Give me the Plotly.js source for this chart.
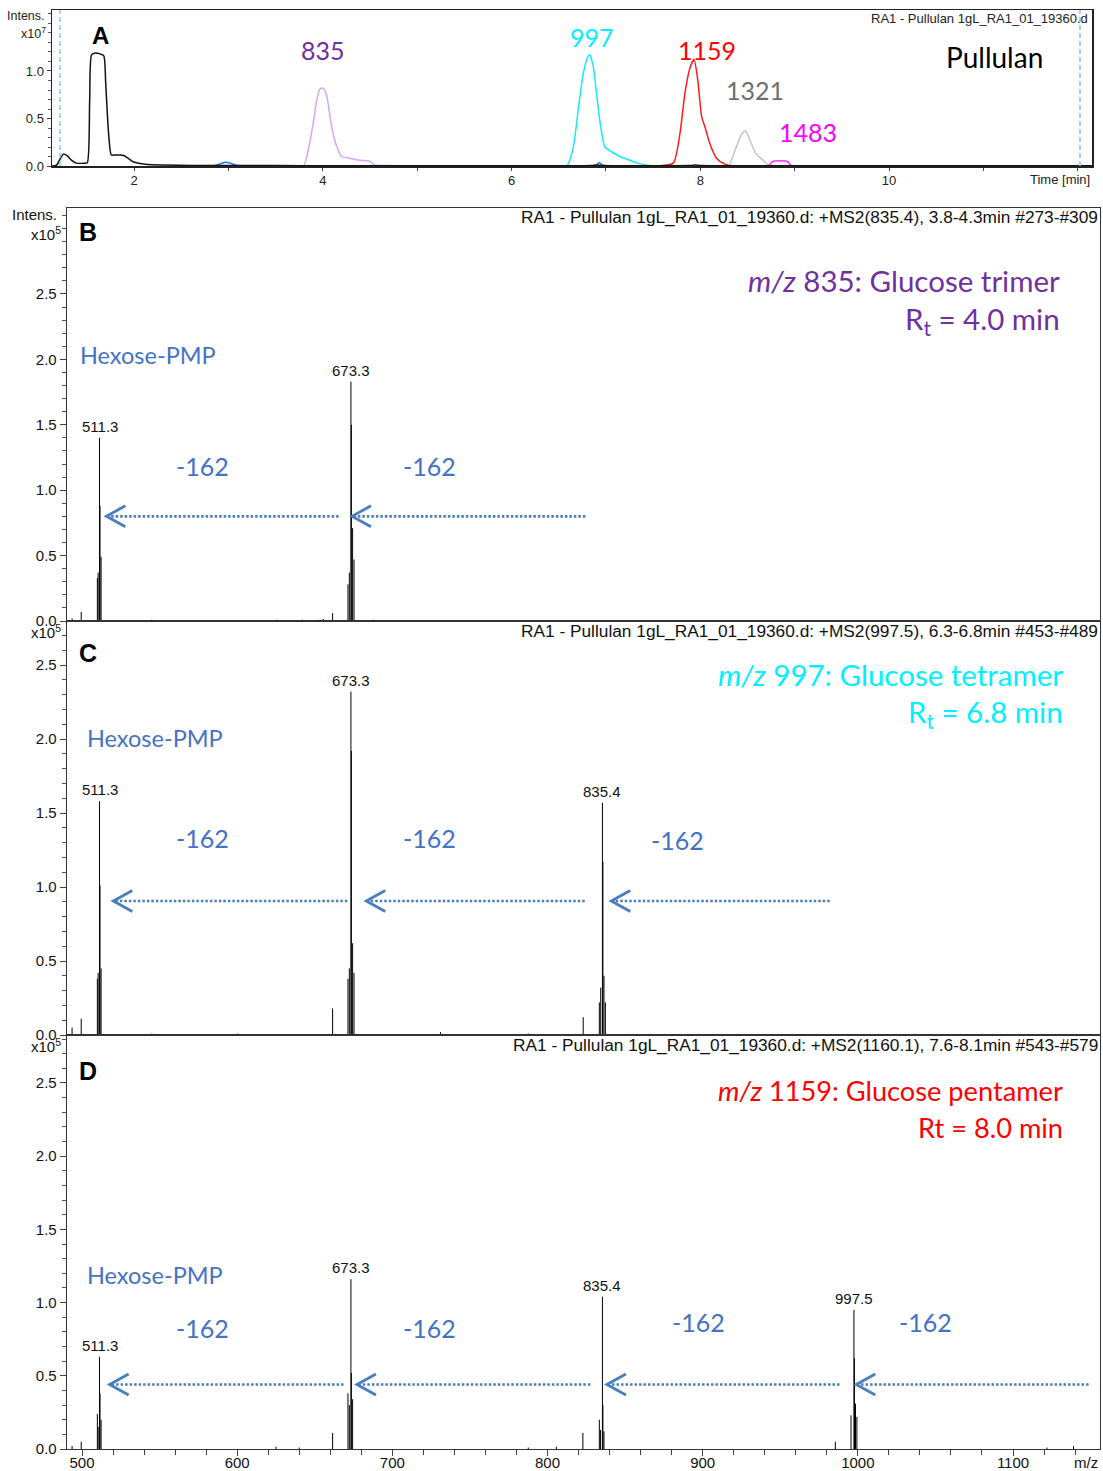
<!DOCTYPE html>
<html>
<head>
<meta charset="utf-8">
<script src="https://cdn.plot.ly/plotly-3.0.1.min.js"></script>
<style>html,body{margin:0;padding:0;background:#fff;}#chart{width:1103px;height:1471px;}</style>
</head>
<body>
<div id="chart"></div>
<script>
// ---------------- DATA ----------------
// Panel A: extracted ion chromatograms (time in min, intensity x10^7)
const tBlack = [1.13,1.18,1.22,1.25,1.29,1.34,1.39,1.47,1.505,1.53,1.55,1.59,1.64,1.68,1.70,1.73,1.76,1.80,1.85,1.89,1.94,1.99,2.05,2.10,2.20,2.31,2.6,3.0,3.5,4.0,5.0,6.0,6.85,6.9,6.95,7.5,7.9,7.95,8.0,9.0,10.0,11.0,12.15];
const iBlack = [0,0.01,0.08,0.125,0.11,0.06,0.03,0.03,0.035,0.69,1.17,1.19,1.18,1.16,0.87,0.35,0.116,0.116,0.115,0.11,0.08,0.045,0.03,0.02,0.012,0.01,0.006,0.004,0.004,0.003,0.003,0.003,0.004,0.01,0.004,0.003,0.004,0.01,0.004,0.003,0.002,0.002,0.002];
const tBlue = [2.70,2.85,2.92,2.97,3.02,3.08,3.20,6.85,6.90,6.93,6.96,7.02];
const iBlue = [0,0.003,0.025,0.04,0.03,0.008,0,0,0.01,0.035,0.01,0];
const tViolet = [3.70,3.795,3.88,3.936,3.97,4.005,4.04,4.095,4.15,4.20,4.29,4.39,4.50,4.55,4.71,4.90];
const iViolet = [0,0,0.34,0.69,0.81,0.82,0.75,0.41,0.20,0.10,0.08,0.06,0.05,0.01,0.005,0];
const tCyan = [6.50,6.585,6.655,6.71,6.755,6.797,6.825,6.86,6.90,6.94,6.99,7.06,7.15,7.255,7.33,7.43,7.50];
const iCyan = [0,0,0.20,0.62,0.94,1.12,1.17,1.08,0.77,0.45,0.20,0.15,0.10,0.06,0.03,0.01,0];
const tRed = [7.45,7.54,7.714,7.785,7.838,7.89,7.934,7.973,8.015,8.05,8.10,8.174,8.26,8.35];
const iRed = [0,0,0.03,0.34,0.77,1.03,1.12,0.91,0.52,0.41,0.24,0.08,0.02,0];
const tGrey = [8.25,8.30,8.37,8.44,8.48,8.527,8.59,8.668,8.72,8.80];
const iGrey = [0,0,0.17,0.34,0.37,0.27,0.13,0.06,0.01,0];
const tMagenta = [8.70,8.72,8.77,8.92,8.97,9.13];
const iMagenta = [0,0,0.05,0.05,0,0];
const rangeMarks = [1.216, 12.024];
const eicLabels = ['835','997','1159','1321','1483'];

// Panels B-D: MS2 spectra (m/z, intensity x10^5)
const mzB  = [493.6,499.5,509.9,510.4,511.3,511.6,512.3,545.0,625.7,642.0,652.0,655.5,661.5,671.4,672.3,673.3,673.6,674.4,675.3,688.0];
const intB = [0.02,0.07,0.33,0.37,1.40,0.88,0.49,0.01,0.01,0.01,0.01,0.015,0.06,0.28,0.37,1.83,1.50,0.71,0.47,0.01];
const mzC  = [493.6,499.5,509.9,510.4,511.3,511.6,512.3,545.0,600.5,661.5,671.4,672.3,673.3,673.6,674.4,675.3,731.0,787.6,823.0,833.4,834.3,835.4,835.7,836.4,837.3];
const intC = [0.05,0.11,0.38,0.42,1.58,1.01,0.45,0.01,0.01,0.18,0.38,0.45,2.32,1.92,0.62,0.42,0.02,0.01,0.12,0.22,0.32,1.57,1.17,0.40,0.22];
const mzD  = [493.6,499.5,509.9,510.4,511.3,511.6,512.3,625.0,640.0,661.5,671.4,672.3,673.3,673.6,674.4,787.6,805.7,822.8,833.4,834.2,835.4,835.7,836.4,985.5,995.6,997.5,997.8,998.5,999.4,1121.9,1139.0];
const intD = [0.02,0.05,0.24,0.15,0.63,0.38,0.20,0.015,0.01,0.11,0.38,0.30,1.16,0.52,0.34,0.01,0.015,0.11,0.20,0.13,1.04,0.30,0.12,0.05,0.23,0.95,0.62,0.31,0.22,0.01,0.02];
const labelsB = [511.3,673.3];
const labelsC = [511.3,673.3,835.4];
const labelsD = [511.3,673.3,835.4,997.5];
// -162 loss arrows (head m/z, tail m/z, height)
const headB = [515.7,674.0],       tailB = [665.4,824.4],             arrowYB = 0.80;
const headC = [520.2,683.2,841.1], tailC = [671.0,824.0,981.9],       arrowYC = 0.905;
const headD = [517.8,677.2,838.3,999.0], tailD = [668.6,827.6,988.2,1148.7], arrowYD = 0.44;
const xTicksA = [2,4,6,8,10];
const yTicksA = [0,0.5,1.0];
const xTicksMS = [500,600,700,800,900,1000,1100];
const yTicksMS = [0,0.5,1.0,1.5,2.0,2.5];

// ---------------- LAYOUT HELPERS ----------------
const W = 1103, H = 1471;
const PX = p => p / W;
const PY = p => 1 - p / H;
const LATO = "Lato, 'Open Sans', sans-serif";
const ARIAL = "'Liberation Sans', Arial, sans-serif";
const NARROW = "'Liberation Sans Narrow', 'Liberation Sans', Arial, sans-serif";
const BLUE_TXT = '#4472c4', ARROW = '#4a7ebb';

function sticks(mz, inten, xa, ya) {
  const x = [], y = [];
  mz.forEach((m, i) => { x.push(m, m, null); y.push(0, inten[i], null); });
  return {type:'scatter', mode:'lines', x, y, xaxis:xa, yaxis:ya, line:{color:'#000', width:1}, hoverinfo:'skip'};
}
function eic(t, v, color, w) {
  return {type:'scatter', mode:'lines', x:t, y:v, xaxis:'x', yaxis:'y', line:{color, width:w||1.5, shape:'spline', smoothing:0.6}, hoverinfo:'skip'};
}

const traces = [
  eic(tBlue, iBlue, '#1f6fff'),
  eic(tViolet, iViolet, '#d7a6f2'),
  eic(tCyan, iCyan, '#18eaf7'),
  eic(tRed, iRed, '#ff1a1a'),
  eic(tGrey, iGrey, '#c4c4c4'),
  eic(tMagenta, iMagenta, '#ff2bff'),
  eic(tBlack, iBlack, '#111'),
  sticks(mzB, intB, 'x2', 'y2'),
  sticks(mzC, intC, 'x3', 'y3'),
  sticks(mzD, intD, 'x4', 'y4'),
];

const annotations = [];
const shapes = [];
function txt(text, x, y, size, color, opts) {
  annotations.push(Object.assign({text, x:PX(x), y:PY(y), xref:'paper', yref:'paper', showarrow:false,
    xanchor:'center', yanchor:'middle', font:{family:LATO, size, color}}, opts || {}));
}

// ----- Panel A texts -----
txt('Intens.', 47, 16, 12.5, '#222', {xanchor:'right', font:{family:NARROW, size:12.5, color:'#222'}});
txt('x10<sup>7</sup>', 48, 33, 12.5, '#222', {xanchor:'right', font:{family:NARROW, size:12.5, color:'#222'}});
txt('RA1 - Pullulan 1gL_RA1_01_19360.d', 1090, 18, 13, '#222', {xanchor:'right', font:{family:NARROW, size:13, color:'#222'}});
txt('Time [min]', 1092, 180, 13, '#222', {xanchor:'right', font:{family:NARROW, size:13, color:'#222'}});
txt('<b>A</b>', 100, 35, 24, '#000', {font:{family:ARIAL, size:24, color:'#000'}});
txt('Pullulan', 994, 57, 28, '#000');
const eicLabelPos = [[4.0,1.22],[6.85,1.36],[8.07,1.22],[8.58,0.80],[9.14,0.36]];
const eicLabelCol = ['#7030a0','#00f0ff','#ff0000','#6f6f6f','#ff00ff'];
eicLabels.forEach((l, i) => annotations.push({text:l, x:eicLabelPos[i][0], y:eicLabelPos[i][1], xref:'x', yref:'y',
  showarrow:false, font:{family:LATO, size:25, color:eicLabelCol[i]}}));
rangeMarks.forEach(t => shapes.push({type:'line', xref:'x', yref:'y domain', x0:t, x1:t, y0:0, y1:1,
  line:{color:'#86c8ee', width:1.5, dash:'5px,3px'}}));

// ----- MS panels -----
const panels = [
  {xa:'x2', ya:'y2', mz:mzB, it:intB, labels:labelsB, head:headB, tail:tailB, ay:arrowYB,
   header:'RA1 - Pullulan 1gL_RA1_01_19360.d: +MS2(835.4), 3.8-4.3min #273-#309', hy:217,
   letter:'B', ly:232, hex:[78,355], losses:[[202,466],[429,466]],
   title:'<i>m/z</i> 835: Glucose trimer', rt:'R<sub>t</sub> = 4.0 min', tc:'#7030a0', tx:1062, ty:280, ry:320, ts:29.5, xy:233},
  {xa:'x3', ya:'y3', mz:mzC, it:intC, labels:labelsC, head:headC, tail:tailC, ay:arrowYC,
   header:'RA1 - Pullulan 1gL_RA1_01_19360.d: +MS2(997.5), 6.3-6.8min #453-#489', hy:631,
   letter:'C', ly:653, hex:[85,738], losses:[[202,838],[429,838],[677,840]],
   title:'<i>m/z</i> 997: Glucose tetramer', rt:'R<sub>t</sub> = 6.8 min', tc:'#00f0ff', tx:1065, ty:674, ry:713, ts:29.5, xy:632},
  {xa:'x4', ya:'y4', mz:mzD, it:intD, labels:labelsD, head:headD, tail:tailD, ay:arrowYD,
   header:'RA1 - Pullulan 1gL_RA1_01_19360.d: +MS2(1160.1), 7.6-8.1min #543-#579', hy:1045,
   letter:'D', ly:1071, hex:[85,1275], losses:[[202,1328],[429,1328],[698,1322],[925,1322]],
   title:'<i>m/z</i> 1159: Glucose pentamer', rt:'Rt = 8.0 min', tc:'#ff0000', tx:1065, ty:1090, ry:1127, ts:27.2, xy:1045},
];

txt('Intens.', 59, 214, 15, '#111', {xanchor:'right', font:{family:ARIAL, size:15, color:'#111'}});
panels.forEach(p => {
  txt('x10<sup>5</sup>', 63, p.xy, 15, '#111', {xanchor:'right', font:{family:ARIAL, size:15, color:'#111'}});
  txt(p.header, 1100, p.hy, 17.3, '#111', {xanchor:'right', font:{family:ARIAL, size:17.3, color:'#111'}});
  txt('<b>' + p.letter + '</b>', 88, p.ly, 25, '#000', {font:{family:ARIAL, size:25, color:'#000'}});
  txt('Hexose-PMP', p.hex[0], p.hex[1], 23.5, BLUE_TXT, {xanchor:'left'});
  p.losses.forEach(l => txt('-162', l[0], l[1], 25, BLUE_TXT));
  txt(p.title, p.tx, p.ty, p.ts, p.tc, {xanchor:'right'});
  txt(p.rt, p.tx, p.ry, p.ts, p.tc, {xanchor:'right'});
  p.labels.forEach(m => {
    const i = p.mz.indexOf(m);
    annotations.push({text:m.toFixed(1), x:m, y:p.it[i], xref:p.xa, yref:p.ya, showarrow:false,
      xanchor:'center', yanchor:'bottom', yshift:1, font:{family:ARIAL, size:15, color:'#111'}});
  });
  p.head.forEach((h, i) => {
    shapes.push({type:'line', xref:p.xa, yref:p.ya, x0:p.tail[i], x1:h + 1.2, y0:p.ay, y1:p.ay,
      line:{color:ARROW, width:2.6, dash:'2.5px,2px'}});
    shapes.push({type:'path', xref:p.xa, yref:p.ya, xsizemode:'pixel', ysizemode:'pixel', xanchor:h, yanchor:p.ay,
      path:'M 19 10.5 L 0 0 L 19 -10.5', line:{color:ARROW, width:2.8}});
  });
});
txt('m/z', 1086, 1462, 15, '#111', {font:{family:ARIAL, size:15, color:'#111'}});

const axisLine = {showline:true, mirror:true, linecolor:'#333', linewidth:1.3, showgrid:false, zeroline:false};
const msX = (anchor, last) => Object.assign({}, axisLine, {
  domain:[PX(67), PX(1100)], range:[490.33, 1156.07], anchor,
  showticklabels:!!last, ticks:last ? 'outside' : '', ticklen:6, tickcolor:'#444', tickvals:xTicksMS,
  ticklabelstandoff: last ? -6 : 0,
  tickfont:{family:ARIAL, size:15, color:'#111'},
  minor: last ? {dtick:20, ticks:'outside', ticklen:5, tickcolor:'#444'} : undefined
});
const msY = (anchor, bottom, top, max) => Object.assign({}, axisLine, {
  domain:[PY(bottom), PY(top)], range:[0, max], anchor,
  tickvals:yTicksMS, tickformat:'.1f', ticks:'outside', ticklen:6, tickcolor:'#444',
  tickfont:{family:ARIAL, size:15, color:'#111'},
  minor:{dtick:0.1, tick0:0, ticks:'outside', ticklen:4, tickcolor:'#555'}
});

const layout = {
  width:W, height:H, margin:{l:0, r:0, t:0, b:0}, paper_bgcolor:'#fff', plot_bgcolor:'#fff', showlegend:false,
  xaxis: Object.assign({}, axisLine, {domain:[PX(52), PX(1092)], range:[1.131, 12.151], anchor:'y',
    linecolor:'#222', linewidth:1.5, tickvals:xTicksA, ticks:'outside', ticklen:2, tickcolor:'#444',
    tickfont:{family:NARROW, size:13, color:'#222'},
    minor:{dtick:1, tick0:0, ticks:'outside', ticklen:3, tickcolor:'#444'}}),
  yaxis: Object.assign({}, axisLine, {domain:[PY(166), PY(10)], range:[0, 1.642], anchor:'x',
    linecolor:'#222', linewidth:1.5, tickvals:yTicksA, tickformat:'.1f', ticks:'outside', ticklen:4, tickcolor:'#444',
    tickfont:{family:NARROW, size:13, color:'#222'},
    minor:{dtick:0.1, tick0:0, ticks:'outside', ticklen:3, tickcolor:'#555'}}),
  xaxis2: msX('y2', false),
  xaxis3: msX('y3', false),
  xaxis4: msX('y4', true),
  yaxis2: msY('x2', 621, 208, 3.157),
  yaxis3: msY('x3', 1035, 621.5, 2.794),
  yaxis4: msY('x4', 1449, 1035.5, 2.824),
  annotations, shapes
};

Plotly.newPlot('chart', traces, layout, {staticPlot:true, displayModeBar:false});
</script>
</body>
</html>
